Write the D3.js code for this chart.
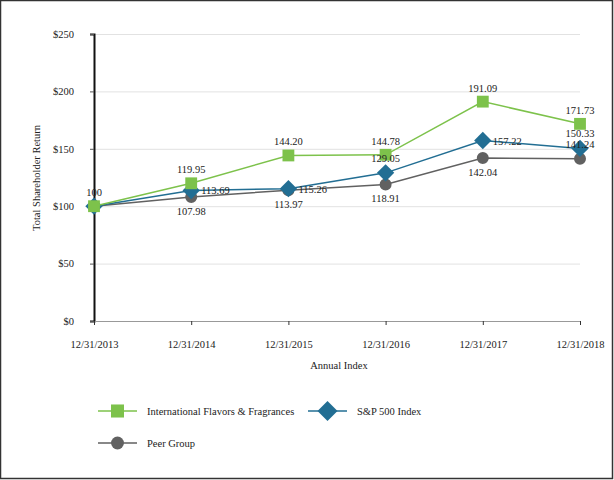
<!DOCTYPE html>
<html>
<head>
<meta charset="utf-8">
<script src="https://cdn.jsdelivr.net/npm/d3@7"></script>
<style>
  body { margin: 0; background: white; }
  svg text { font-family: "Liberation Serif", "DejaVu Serif", serif !important; fill: #222; }
</style>
</head>
<body>
<div id="graph"></div>
<script>
const years = ["12/31/2013", "12/31/2014", "12/31/2015", "12/31/2016", "12/31/2017", "12/31/2018"];
const iff = [100, 119.95, 144.20, 144.78, 191.09, 171.73];
const sp500 = [100, 113.69, 115.26, 129.05, 157.22, 150.33];
const peer = [100, 107.98, 113.97, 118.91, 142.04, 141.24];
const yTicks = [0, 50, 100, 150, 200, 250];

function main() {
    const svg = d3.select("#graph").append("svg").attr("width", 614).attr("height", 480)
        .attr("font-family", "Liberation Serif");
    const margin = { top: 34, right: 34, bottom: 159, left: 94 };
    const width = 614 - margin.left - margin.right;
    const height = 480 - margin.top - margin.bottom;

    // outer frame
    svg.append("rect").attr("x", 0.5).attr("y", 0.5).attr("width", 612).attr("height", 478)
        .attr("fill", "none").attr("stroke", "#333").attr("stroke-width", 1.5);

    const g = svg.append("g").attr("transform", `translate(${margin.left},${margin.top})`);

    const x = d3.scalePoint().domain(years).range([0, width]);
    const y = d3.scaleLinear().domain([0, 250]).range([height, 0]);

    // grid
    g.append("g")
        .call(d3.axisLeft(y).tickValues(yTicks).tickSize(-width).tickFormat(""))
        .call(a => a.select(".domain").remove())
        .selectAll("line").attr("stroke", "#e2e2e2").attr("stroke-width", 1);

    // y axis
    const gy = g.append("g")
        .call(d3.axisLeft(y).tickValues(yTicks).tickSize(4).tickPadding(16).tickFormat(d => "$" + d));
    gy.attr("font-family", null);
    gy.select(".domain").attr("stroke", "#111").attr("stroke-width", 2);
    gy.selectAll(".tick line").attr("stroke", "#555");
    gy.selectAll("text").attr("font-size", 10.5).attr("fill", "#333");

    // x axis
    const gx = g.append("g").attr("transform", `translate(0,${height})`)
        .call(d3.axisBottom(x).tickSize(4).tickSizeOuter(0).tickPadding(16));
    gx.attr("font-family", null);
    gx.select(".domain").attr("stroke", "#999");
    gx.selectAll(".tick line").attr("stroke", "#333");
    gx.selectAll("text").attr("font-size", 10.5).attr("fill", "#333");

    svg.append("text").attr("x", 339).attr("y", 369).attr("text-anchor", "middle")
        .attr("font-size", 10.5).text("Annual Index");
    svg.append("text").attr("transform", "translate(40,178) rotate(-90)").attr("text-anchor", "middle")
        .attr("font-size", 10.5).text("Total Shareholder Return");

    const series = [
        { name: "Peer Group", values: peer, color: "#616161", shape: d3.symbolCircle, size: 113, rot: 0 },
        { name: "S&P 500 Index", values: sp500, color: "#226e93", shape: d3.symbolSquare, size: 150, rot: 45 },
        { name: "International Flavors & Fragrances", values: iff, color: "#7dc24b", shape: d3.symbolSquare, size: 140, rot: 0 }
    ];

    const line = d3.line().x((d, i) => x(years[i])).y(d => y(d));

    series.forEach(s => {
        g.append("path").datum(s.values).attr("d", line)
            .attr("fill", "none").attr("stroke", s.color).attr("stroke-width", 1.5);
        g.selectAll(null).data(s.values).enter().append("path")
            .attr("transform", (d, i) => `translate(${x(years[i])},${y(d)}) rotate(${s.rot})`)
            .attr("d", d3.symbol(s.shape, s.size))
            .attr("fill", s.color);
    });

    // data labels
    const fmt = d => d === 100 ? "100" : d.toFixed(2);
    const labels = g.append("g").attr("font-size", 10.5);
    iff.forEach((d, i) => {
        labels.append("text").attr("x", x(years[i])).attr("y", y(d) - 10)
            .attr("text-anchor", "middle").text(fmt(d));
    });
    sp500.forEach((d, i) => {
        if (i === 0) return;
        const above = i === 3 || i === 5;
        labels.append("text")
            .attr("x", above ? x(years[i]) : x(years[i]) + 10)
            .attr("y", above ? y(d) - 11 : y(d) + 4)
            .attr("text-anchor", above ? "middle" : "start").text(fmt(d));
    });
    peer.forEach((d, i) => {
        if (i === 0) return;
        const above = i === 5;
        labels.append("text").attr("x", x(years[i]))
            .attr("y", above ? y(d) - 11 : y(d) + 18)
            .attr("text-anchor", "middle").text(fmt(d));
    });

    // legend
    const legendItems = [
        { s: series[2], x: 98, y: 411, size: 170 },
        { s: series[1], x: 308, y: 411, size: 200 },
        { s: series[0], x: 98, y: 443, size: 130 }
    ];
    legendItems.forEach(it => {
        const lg = svg.append("g").attr("transform", `translate(${it.x},${it.y})`);
        lg.append("line").attr("x1", 0).attr("x2", 39).attr("stroke", it.s.color).attr("stroke-width", 1.5);
        lg.append("path").attr("transform", `translate(19.5,0) rotate(${it.s.rot})`)
            .attr("d", d3.symbol(it.s.shape, it.size))
            .attr("fill", it.s.color);
        lg.append("text").attr("x", 49).attr("y", 4).attr("font-size", 10.5).text(it.s.name);
    });
}

main();
</script>
</body>
</html>
